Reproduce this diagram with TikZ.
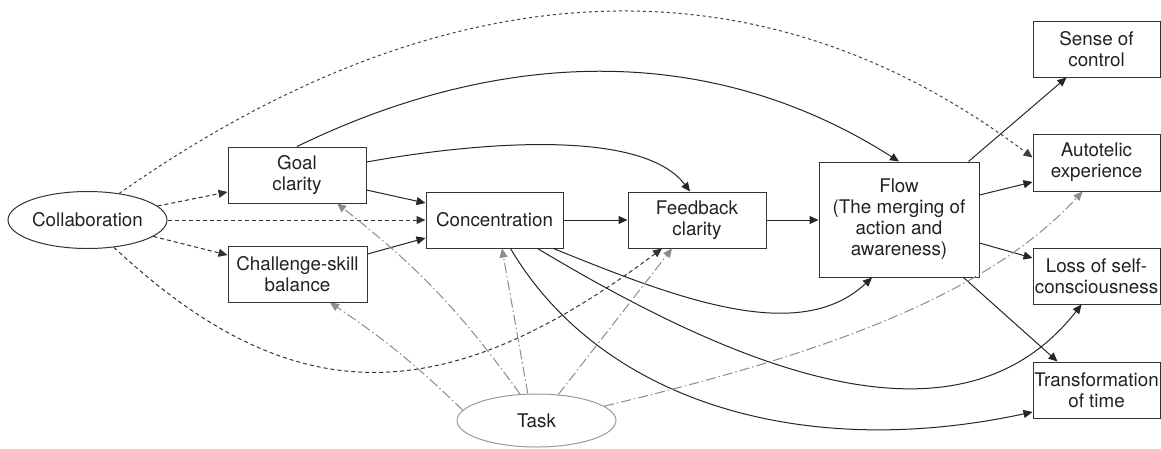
\documentclass[tikz,border=0pt]{standalone}
\usepackage{fontspec}
\setmainfont{TeX Gyre Heros}
\usetikzlibrary{arrows.meta,calc,shapes.geometric}
\definecolor{boxc}{HTML}{333333}
\definecolor{txtc}{HTML}{222222}
\definecolor{grayl}{HTML}{8C8C8C}
\definecolor{taskc}{HTML}{9A9A9A}
\newcommand\fsz{\fontsize{18.8pt}{21pt}\selectfont}
\tikzset{
  box/.style={draw=boxc, line width=1pt, inner sep=0pt, align=center, font=\fsz, text=txtc},
  oval/.style={ellipse, draw=boxc, line width=1pt, inner sep=0pt, font=\fsz, text=txtc},
  solidarr/.style={draw=black!85, line width=1pt, -{Triangle[length=9pt,width=8pt]}},
  dasharr/.style={draw=black!80, line width=1pt, dash pattern=on 4pt off 3pt, -{Triangle[length=9pt,width=8pt]}},
  finedash/.style={draw=black!75, line width=1pt, dash pattern=on 3pt off 3pt, -{Triangle[length=9pt,width=8pt]}},
  grayarr/.style={draw=grayl, line width=1pt, dash pattern=on 10pt off 3pt on 1.5pt off 3pt, -{Triangle[length=9pt,width=8pt]}},
}
\begin{document}
\begin{tikzpicture}[x=1pt,y=-1pt]
\fill[white] (0,0) rectangle (1161,448);
\useasboundingbox (0,0) rectangle (1161,448);

% nodes
\node[oval, minimum width=159pt, minimum height=57pt] (collab) at (87.5,220) {Collaboration};
\node[oval, draw=taskc, minimum width=159pt, minimum height=53pt] (task) at (536.5,420.5) {Task};
\node[box, minimum width=138pt, minimum height=56pt] (goal) at (297,175) {Goal\\clarity};
\node[box, minimum width=139pt, minimum height=56pt] (chal) at (297.5,274) {Challenge-skill\\balance};
\node[box, minimum width=137pt, minimum height=56pt] (conc) at (494.5,220) {Concentration};
\node[box, minimum width=138pt, minimum height=56pt] (feed) at (697,220) {Feedback\\clarity};
\node[box, minimum width=160pt, minimum height=115pt] (flow) at (899,219.5) {Flow\\(The merging of\\action and\\awareness)};
\node[box, minimum width=127pt, minimum height=56pt] (sense) at (1096.5,49) {Sense of\\control};
\node[box, minimum width=127pt, minimum height=57pt] (auto) at (1096.5,162.5) {Autotelic\\experience};
\node[box, minimum width=127pt, minimum height=56pt] (loss) at (1096.5,276) {Loss of self-\\consciousness};
\node[box, minimum width=127pt, minimum height=56pt] (trans) at (1096.5,390) {Transformation\\of time};

% collaboration edges
\draw[dasharr] (collab) -- ($(goal.west)+(0,17)$);
\draw[dasharr] (collab.east) -- (conc.west);
\draw[dasharr] (collab) -- ($(chal.west)+(0,-19)$);
\draw[finedash] (collab.40) .. controls (456,-42.5) and (768,-42.5) .. ($(auto.west)+(0,-5)$);
\draw[dasharr] (collab.-46) .. controls (291,413) and (443,413) .. ($(feed.south)+(-35,0)$);

% main chain
\draw[solidarr] ($(goal.east)+(0,15)$) -- ($(conc.west)+(0,-17)$);
\draw[solidarr] ($(chal.east)+(0,-20)$) -- ($(conc.west)+(0,18)$);
\draw[solidarr] (conc.east) -- (feed.west);
\draw[solidarr] (feed.east) -- (feed.east -| flow.west);
\draw[solidarr] (goal.north) .. controls (507,44.5) and (716,44.5) .. (flow.north);
\draw[solidarr] ($(goal.east)+(0,-13)$) .. controls (460,145) and (640,125) .. ($(feed.north)+(-7,0)$);

% concentration curves
\draw[solidarr] ($(conc.south east)+(-10,0)$) .. controls (680,300) and (800,345) .. ($(flow.south)+(-27,0)$);
\draw[solidarr] ($(conc.south east)+(-26,0)$) .. controls (740,370) and (960,460) .. ($(loss.south)+(-15,0)$);
\draw[solidarr] ($(conc.south east)+(-53,0)$) .. controls (600,400) and (800,462) .. ($(trans.west)+(0,22)$);

% flow outcomes
\draw[solidarr] ($(flow.north east)+(-11,0)$) -- ($(sense.south)+(-30,0)$);
\draw[solidarr] ($(flow.east)+(0,-24.5)$) -- ($(auto.west)+(0,19.5)$);
\draw[solidarr] ($(flow.east)+(0,23.5)$) -- ($(loss.west)+(0,-18)$);
\draw[solidarr] ($(flow.south east)+(-16,0)$) -- ($(trans.north)+(-39,0)$);

% task edges
\draw[grayarr] (task.172) to[bend right=5] ($(chal.south)+(32.5,0)$);
\draw[grayarr] (task.122) to[bend right=8] ($(goal.south)+(40,0)$);
\draw[grayarr] (task.108) -- ($(conc.south)+(7.5,0)$);
\draw[grayarr] (task.50) -- ($(feed.south)+(-25,0)$);
\draw[grayarr] (task.12) .. controls (802,359) and (981,302) .. ($(auto.south)+(-14,0)$);
\end{tikzpicture}
\end{document}
